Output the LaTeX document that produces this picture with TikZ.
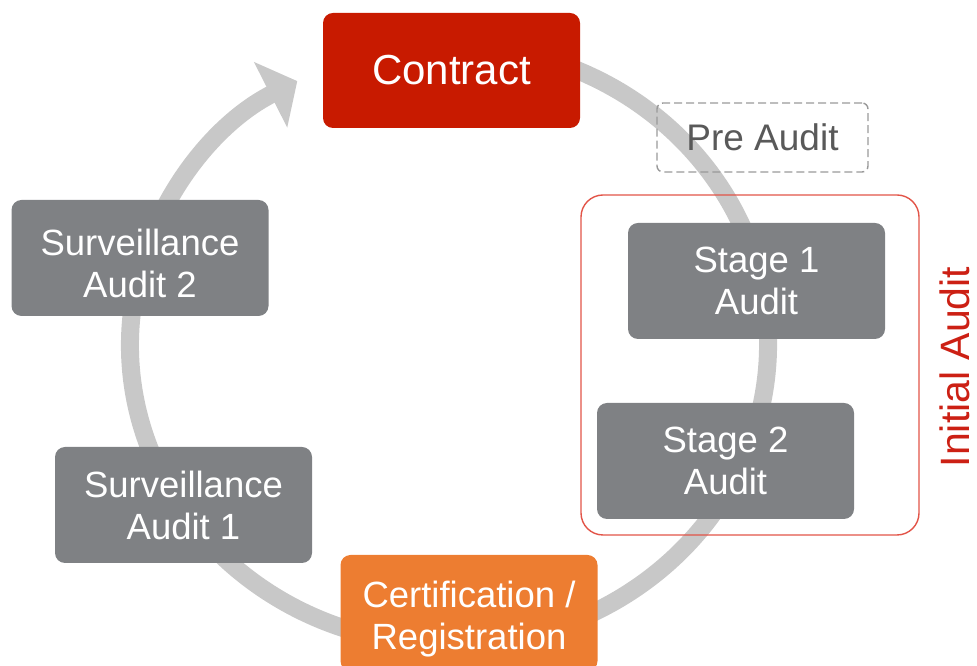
\documentclass[tikz,border=0pt]{standalone}
\usepackage{fontspec}
\setmainfont{Liberation Sans}
\usetikzlibrary{arrows.meta}
\definecolor{ringgray}{RGB}{200,200,200}
\definecolor{boxgray}{RGB}{127,129,132}
\definecolor{contractred}{RGB}{200,26,0}
\definecolor{certorange}{RGB}{237,125,49}
\definecolor{framered}{RGB}{226,84,72}
\definecolor{textred}{RGB}{204,32,20}
\definecolor{pregray}{RGB}{89,89,89}
\tikzstyle{ring} = [draw=ringgray, line width=18pt]
\tikzstyle{stepbox} = [rounded corners=10pt, fill=boxgray, text=white, inner sep=0pt, minimum width=257pt, minimum height=116pt, align=center, font=\fontsize{36.5}{42}\selectfont]
\tikzstyle{contractbox} = [stepbox, fill=contractred, minimum height=115pt, font=\fontsize{42}{48}\selectfont]
\tikzstyle{certbox} = [stepbox, fill=certorange]
\tikzstyle{prebox} = [draw=gray!80, dashed, dash pattern=on 8pt off 4pt, line width=1.4pt, rounded corners=6pt, text=pregray, inner sep=0pt, minimum width=211pt, minimum height=69pt, font=\fontsize{37}{42}\selectfont]
\tikzstyle{framebox} = [draw=framered, line width=1.4pt, rounded corners=22pt, inner sep=0pt, minimum width=338pt, minimum height=340pt]
\newcommand{\lowtext}{\rule{0pt}{38pt}}

\begin{document}
\begin{tikzpicture}[x=1pt, y=1pt]
    \useasboundingbox (0, 0) rectangle (977, 666);
    % the cycle
    \draw[ring, -{Triangle[length=30pt, width=72pt]}] (449, 321) ++(80:319 and 300)
        arc[start angle=80, end angle=-241.6, x radius=319, y radius=300];

    \node[framebox] (frame) at (750, 301) {};
    \node[contractbox] (contract) at (451.5, 595.5) {Contract};
    \node[prebox] (pre) at (762.5, 528.5) {Pre Audit};
    \node[stepbox] (stage1) at (756.5, 385) {Stage 1\\Audit};
    \node[stepbox] (stage2) at (725.5, 205) {Stage 2\\Audit};
    \node[certbox] (cert) at (469, 53) {\lowtext Certification /\\Registration};
    \node[stepbox] (surv1) at (183.5, 161) {Surveillance\\Audit 1};
    \node[stepbox] (surv2) at (140, 408) {\lowtext Surveillance\\Audit 2};
    \node[text=textred, rotate=90, inner sep=0pt, font=\fontsize{41}{48}\selectfont] (initial) at (955, 299) {Initial Audit};
\end{tikzpicture}
\end{document}
